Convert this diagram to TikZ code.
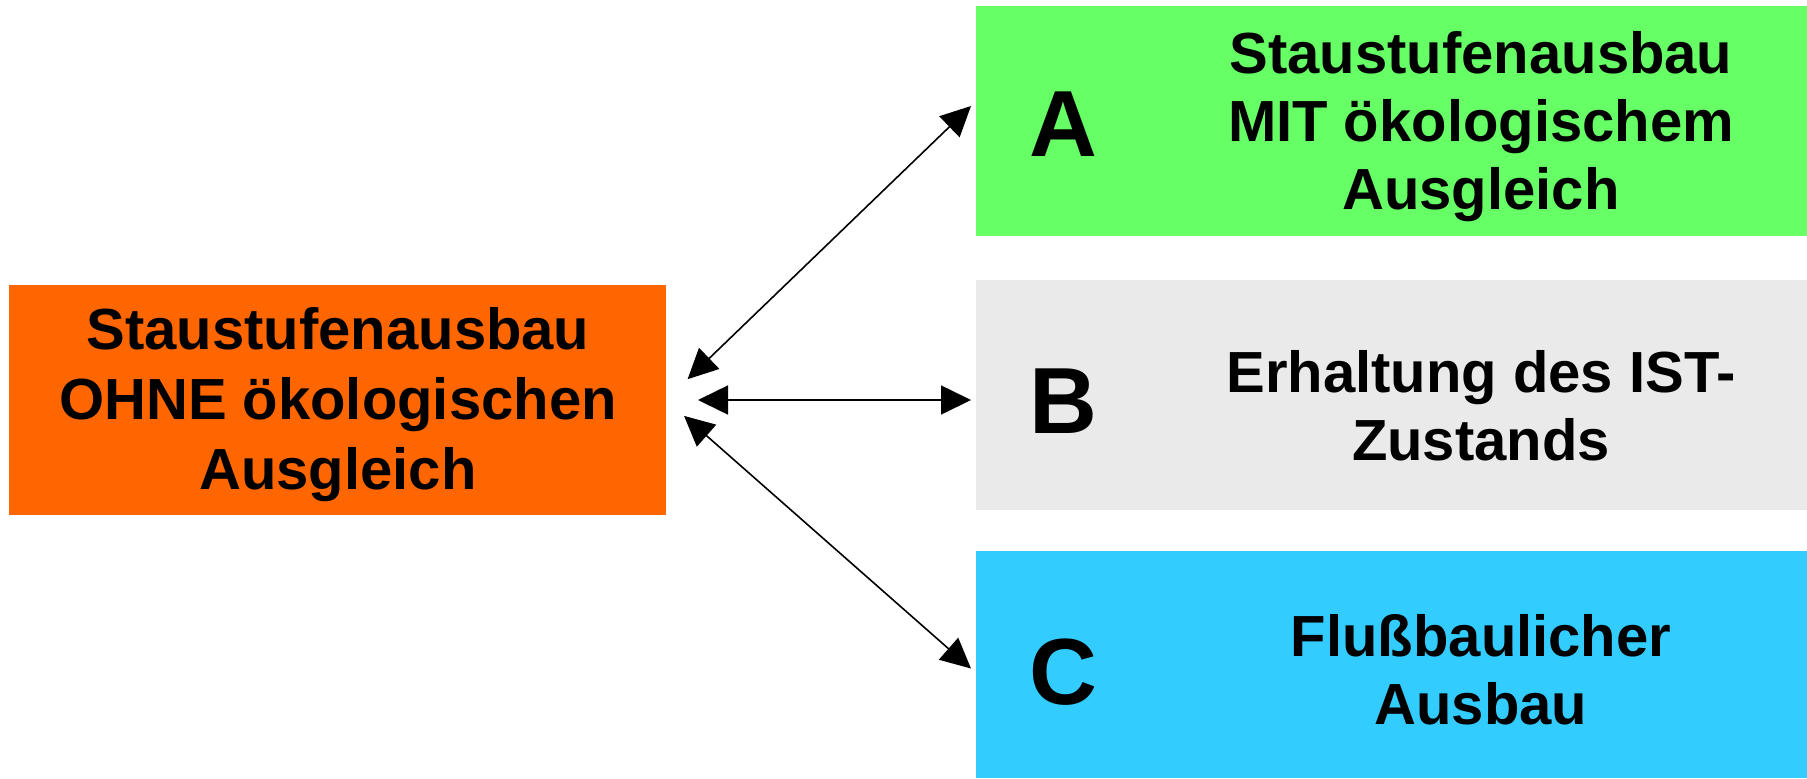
\documentclass[tikz,border=0pt]{standalone}
\usepackage{fontspec}
\setmainfont{Liberation Sans}
\usetikzlibrary{arrows.meta,calc}

\definecolor{ohneorange}{HTML}{FF6600}
\definecolor{mitgreen}{HTML}{66FF66}
\definecolor{istgrey}{HTML}{EAEAEA}
\definecolor{ausbaublue}{HTML}{33CCFF}

\begin{document}
\begin{tikzpicture}[x=0.5pt,y=-0.5pt,
    box/.style={inner sep=0pt, outer sep=0pt, minimum height=115pt},
    leftbox/.style={box, minimum width=328.5pt, align=center,
        font=\fontsize{29}{35}\selectfont\bfseries},
    rightbox/.style={box, minimum width=415.5pt},
    letter/.style={inner sep=0pt, font=\fontsize{47}{50}\selectfont\bfseries},
    label/.style={inner sep=0pt, align=center,
        font=\fontsize{29}{34}\selectfont\bfseries},
    link/.style={line width=0.8pt, {Triangle[length=15pt,width=14.5pt]}-{Triangle[length=15pt,width=14.5pt]}}]
        \useasboundingbox (0,0) rectangle (1807,778);
        % left block
        \node[leftbox, fill=ohneorange] (ohne) at (337.5,400) {};
        \node[label, font=\fontsize{29}{35}\selectfont\bfseries] (txtOhne) at (338,405) {Staustufenausbau\\OHNE ökologischen\\Ausgleich};
        % the three variants
        \node[rightbox, fill=mitgreen] (boxA) at (1391.5,121) {};
        \node[rightbox, fill=istgrey] (boxB) at (1391.5,395) {};
        \node[rightbox, fill=ausbaublue, minimum height=113.5pt] (boxC) at (1391.5,664.5) {};
        \node[letter] (letA) at (1063,124) {A};
        \node[letter] (letB) at (1063,401) {B};
        \node[letter] (letC) at (1063,672) {C};
        \node[label] (txtA) at (1481,127) {Staustufenausbau\\MIT ökologischem\\Ausgleich};
        \node[label] (txtB) at (1481,406) {Erhaltung des IST-\\Zustands};
        \node[label] (txtC) at (1481,670) {Flußbaulicher\\Ausbau};
        % arrow ends just short of the boxes
        \coordinate (tipA) at ($(boxA.west)+(-5,-15)$);
        \coordinate (tipB) at ($(boxB.west)+(-5,5)$);
        \coordinate (tipC) at ($(boxC.west)+(-5,4)$);
        \draw[link, shorten <=15pt] (ohne.east) -- (tipA);
        \draw[link, shorten <=16pt] (ohne.east) -- (tipB);
        \draw[link, shorten <=12pt] (ohne.east) -- (tipC);
\end{tikzpicture}
\end{document}
